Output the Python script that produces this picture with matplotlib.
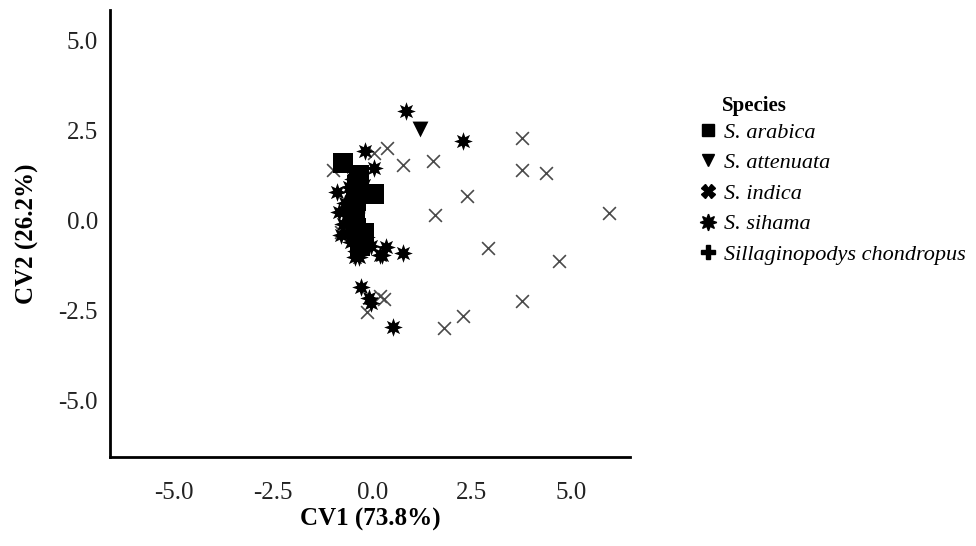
import matplotlib.pyplot as plt
from matplotlib.lines import Line2D

plt.rcParams['font.family'] = ['Liberation Serif', 'DejaVu Serif']

# canonical variate scores
arabica_x = [-0.75, -0.33, 0.05, -0.38, -0.42, -0.45, -0.45, -0.42, -0.35, -0.25, -0.30, -0.40, -0.50, -0.20]
arabica_y = [1.61, 1.28, 0.75, 1.00, 0.70, 0.40, 0.10, -0.20, -0.45, -0.50, -0.70, 0.55, 0.25, -0.35]

attenuata_x = [1.21]
attenuata_y = [2.56]

indica_x = [3.77, 0.78, 1.53, 3.77, 4.37, 2.39, 1.58, 5.95, 2.91, 4.70, 3.77, 2.29, 1.81,
            -1.00, 0.05, 0.38, -0.78, 0.30, 0.18, -0.13]
indica_y = [2.31, 1.56, 1.67, 1.42, 1.33, 0.69, 0.17, 0.22, -0.75, -1.11, -2.22, -2.64, -2.97,
            1.42, 1.89, 2.03, -0.31, -2.17, -2.08, -2.53]

sihama_x = [0.85, 2.29, -0.18, 0.03, -0.88, -0.83, 0.35, 0.20, 0.78, -0.33, -0.28, -0.08, -0.03, 0.53,
            -0.60, -0.70, -0.75, -0.65, -0.55, -0.40, -0.50, -0.20, -0.15, -0.03, -0.78, 0.25, -0.45]
sihama_y = [3.06, 2.22, 1.94, 1.47, 0.81, 0.25, -0.72, -0.94, -0.89, -1.00, -1.83, -2.14, -2.28, -2.94,
            0.95, 0.50, -0.10, -0.35, -0.60, -0.85, 1.15, 1.00, -0.44, -0.70, -0.39, -0.94, -1.00]

chondropus_x = [-0.42, -0.40]
chondropus_y = [0.30, -0.10]

fig = plt.figure(figsize=(9.76, 5.46), dpi=100)
ax = fig.add_axes([0.113, 0.163, 0.533, 0.819])

ax.scatter(indica_x, indica_y, marker='x', s=85, color='#4a4a4a', linewidths=1.2, zorder=2)
ax.scatter(chondropus_x, chondropus_y, marker='P', s=120, color='black', zorder=3)
ax.scatter(sihama_x, sihama_y, marker=(8, 1, 0), s=180, color='black', linewidths=0, zorder=3)
ax.scatter(arabica_x, arabica_y, marker='s', s=200, color='black', linewidths=0, zorder=4)
ax.scatter(attenuata_x, attenuata_y, marker='v', s=130, color='black', linewidths=0, zorder=4)

ax.set_xlim(-6.6, 6.5)
ax.set_ylim(-6.56, 5.86)
ax.set_xticks([-5, -2.5, 0, 2.5, 5])
ax.set_yticks([-5, -2.5, 0, 2.5, 5])
ax.set_xticklabels(['-5.0', '-2.5', '0.0', '2.5', '5.0'])
ax.set_yticklabels(['-5.0', '-2.5', '0.0', '2.5', '5.0'])
ax.tick_params(length=0, labelsize=18, colors='#222222')
ax.tick_params(axis='x', pad=18)
ax.tick_params(axis='y', pad=9)
for side in ['top', 'right']:
    ax.spines[side].set_visible(False)
for side in ['left', 'bottom']:
    ax.spines[side].set_linewidth(2)

ax.set_xlabel('CV1 (73.8%)', fontsize=18, fontweight='bold', labelpad=3)
ax.set_ylabel('CV2 (26.2%)', fontsize=18, fontweight='bold', labelpad=14)

handles = [
    Line2D([], [], ls='none', marker='s', color='black', markersize=9),
    Line2D([], [], ls='none', marker='v', color='black', markersize=9),
    Line2D([], [], ls='none', marker='X', color='black', markersize=10),
    Line2D([], [], ls='none', marker=(8, 1, 0), color='black', markersize=12),
    Line2D([], [], ls='none', marker='P', color='black', markersize=10),
]
labels = ['S. arabica', 'S. attenuata', 'S. indica', 'S. sihama', 'Sillaginopodys chondropus']
fig.text(0.74, 1 - 106 / 546, 'Species', fontsize=15, fontweight='bold', va='center', ha='left')
leg = fig.legend(handles, labels, loc='upper left', bbox_to_anchor=(0.703, 1 - 111 / 546),
                 frameon=False, handletextpad=0.2, labelspacing=0.45, borderpad=0, handlelength=1.0,
                 prop={'style': 'italic', 'size': 16})

fig.savefig('out.png', dpi=100)
